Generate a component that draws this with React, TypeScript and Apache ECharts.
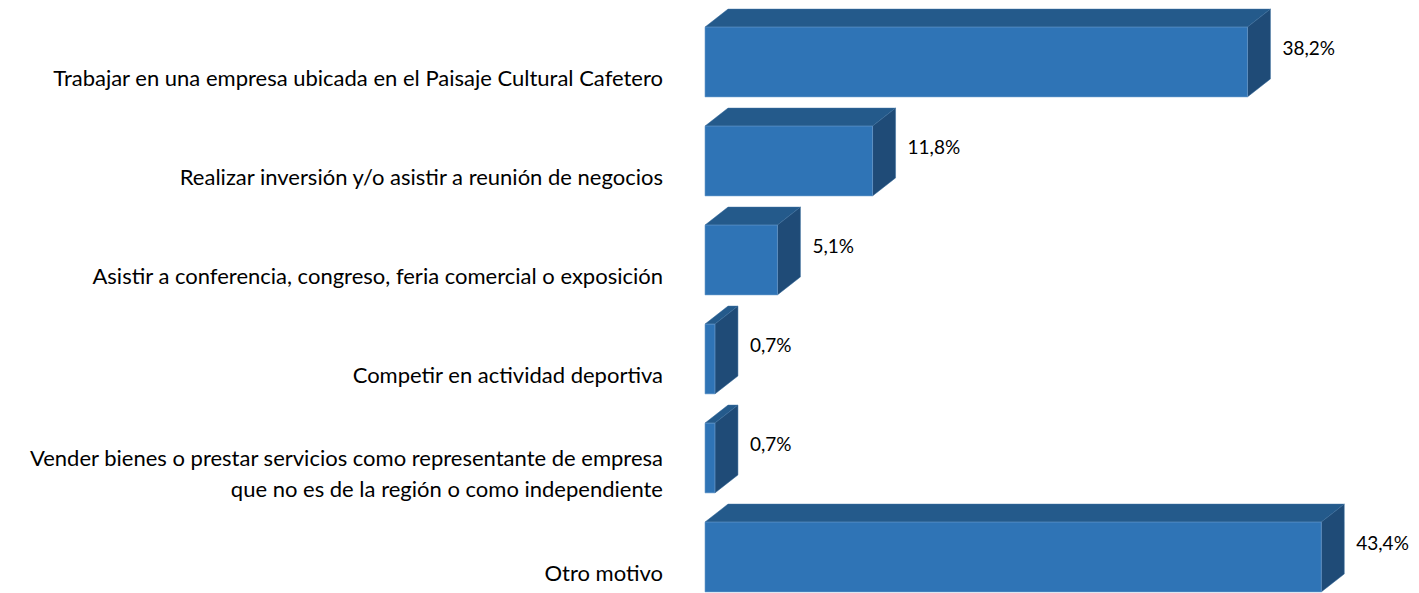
import React, { useEffect, useRef } from "react";
import * as echarts from "echarts";

const categories = [
  "Trabajar en una empresa ubicada en el Paisaje Cultural Cafetero",
  "Realizar inversión y/o asistir a reunión de negocios",
  "Asistir a conferencia, congreso, feria comercial o exposición",
  "Competir en actividad deportiva",
  "Vender bienes o prestar servicios como representante de empresa\nque no es de la región o como independiente",
  "Otro motivo",
];
const values = [38.2, 11.8, 5.1, 0.7, 0.7, 43.4];
const valueLabels = ["38,2%", "11,8%", "5,1%", "0,7%", "0,7%", "43,4%"];

const FRONT = "#2F74B6";
const TOP = "#245A8B";
const SIDE = "#1F4B77";
const FONT = "Lato";

export default function App() {
  const ref = useRef<HTMLDivElement>(null);
  useEffect(() => {
    if (!ref.current) return;
    const chart = echarts.init(ref.current, null, { renderer: "svg" });
    const depthX = 23;
    const depthY = 18;
    chart.setOption({
      animation: false,
      grid: { left: 705, top: 27.5, width: 710, height: 594 },
      xAxis: {
        type: "value",
        min: 0,
        max: 50,
        show: false,
      },
      yAxis: {
        type: "category",
        data: categories,
        inverse: true,
        axisLine: { show: false },
        axisTick: { show: false },
        splitLine: { show: false },
        axisLabel: {
          margin: 42,
          color: "#000",
          fontFamily: FONT,
          fontSize: 22,
          lineHeight: 31,
          align: "right",
        },
      },
      series: [
        {
          type: "custom",
          data: values.map((v, i) => [v, i]),
          encode: { x: 0, y: 1 },
          renderItem: (params: any, api: any) => {
            const v = api.value(0);
            const idx = api.value(1);
            const p0 = api.coord([0, idx]);
            const p1 = api.coord([v, idx]);
            const band = api.size([0, 1])[1];
            const h = band * 0.705;
            const cy = p0[1] - 15;
            const y0 = cy - h / 2;
            const y1 = cy + h / 2;
            const x0 = p0[0];
            const x1 = p1[0];
            return {
              type: "group",
              children: [
                {
                  type: "polygon",
                  shape: {
                    points: [
                      [x0, y0],
                      [x0 + depthX, y0 - depthY],
                      [x1 + depthX, y0 - depthY],
                      [x1, y0],
                    ],
                  },
                  style: { fill: TOP, stroke: "#3A6E9E", lineWidth: 0.5 },
                },
                {
                  type: "polygon",
                  shape: {
                    points: [
                      [x1, y0],
                      [x1 + depthX, y0 - depthY],
                      [x1 + depthX, y1 - depthY],
                      [x1, y1],
                    ],
                  },
                  style: { fill: SIDE, stroke: "#3A6E9E", lineWidth: 0.5 },
                },
                {
                  type: "rect",
                  shape: { x: x0, y: y0, width: x1 - x0, height: y1 - y0 },
                  style: { fill: FRONT, stroke: "#6A9BCB", lineWidth: 0.6 },
                },
                {
                  type: "text",
                  style: {
                    text: valueLabels[idx],
                    x: x1 + depthX + 12,
                    y: y0 + 20,
                    fill: "#000",
                    font: `19px ${FONT}`,
                    verticalAlign: "middle",
                    align: "left",
                  },
                },
              ],
            };
          },
        },
      ],
    });
    return () => chart.dispose();
  }, []);
  return (
    <div style={{ position: "fixed", left: 0, top: 0, width: 1419, height: 593, overflow: "hidden", background: "#fff" }}>
      <div ref={ref} style={{ width: 1419, height: 660 }} />
    </div>
  );
}
